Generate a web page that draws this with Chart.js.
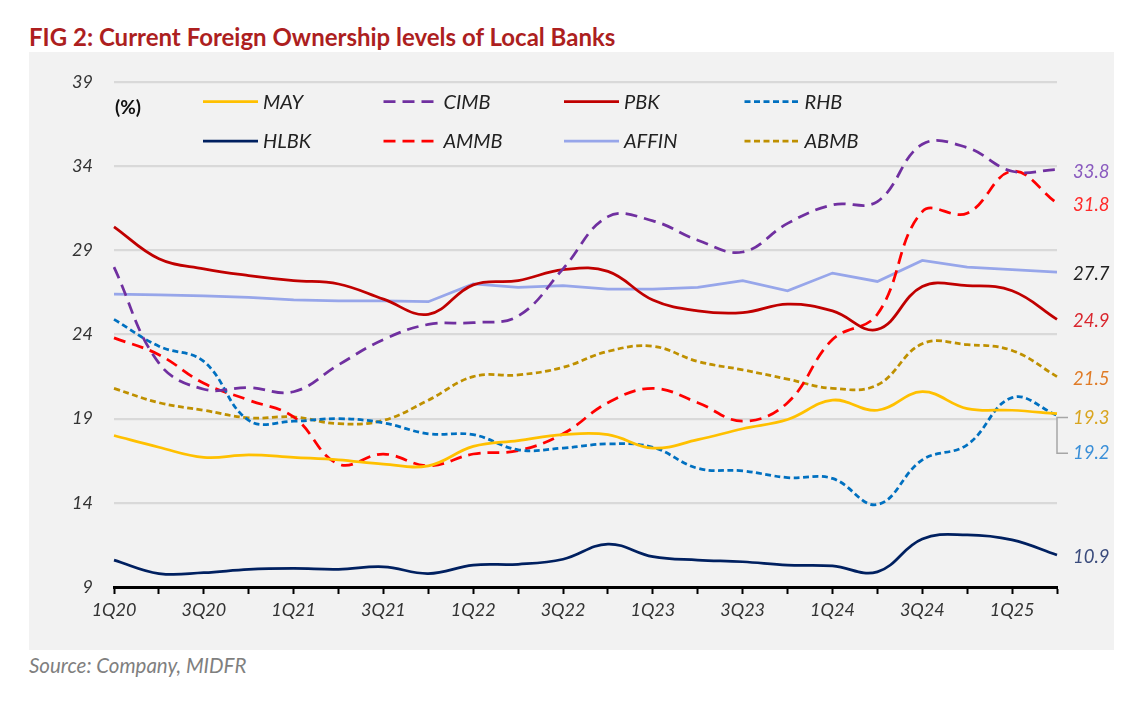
<!DOCTYPE html>
<html lang="en">
<head>
<meta charset="UTF-8">
<title>FIG 2: Current Foreign Ownership levels of Local Banks</title>
<script src="https://cdn.jsdelivr.net/npm/chart.js"></script>
<style>
  html, body { margin: 0; padding: 0; background: #fff; }
  body { width: 1148px; height: 704px; position: relative; overflow: hidden; font-family: 'Lato', sans-serif; }
  .title { position: absolute; left: 29px; top: 23px; font-size: 24px; line-height: 28px; font-weight: bold; color: #ad1f1f; white-space: nowrap; }
  .panel { position: absolute; left: 29px; top: 52px; width: 1085px; height: 598px; background: #f2f2f2; }
  .source { position: absolute; left: 29px; top: 653px; font-size: 20.5px; line-height: 24px; font-style: italic; color: #7f7f7f; }
  #wrap { position: absolute; left: 0; top: 0; width: 1148px; height: 704px; }
</style>
</head>
<body>
<div class="title">FIG 2: Current Foreign Ownership levels of Local Banks</div>
<div class="panel"></div>
<div class="source">Source: Company, MIDFR</div>
<div id="wrap"><canvas id="fxChart"></canvas></div>

<script>
// quarters 1Q20 .. 2Q25
const quarters = ['1Q20','2Q20','3Q20','4Q20','1Q21','2Q21','3Q21','4Q21','1Q22','2Q22','3Q22',
                  '4Q22','1Q23','2Q23','3Q23','4Q23','1Q24','2Q24','3Q24','4Q24','1Q25','2Q25'];

// foreign ownership, %
const may   = [18.0, 17.3, 16.7, 16.85, 16.7, 16.55, 16.3, 16.2, 17.35, 17.7, 18.05, 18.05, 17.25, 17.75, 18.4, 18.95, 20.1, 19.5, 20.6, 19.6, 19.5, 19.3];
const cimb  = [28.0, 22.3, 20.75, 20.85, 20.6, 22.2, 23.7, 24.6, 24.7, 25.1, 27.9, 31.0, 30.75, 29.6, 28.9, 30.6, 31.7, 31.9, 35.3, 35.1, 33.7, 33.8];
const pbk   = [30.4, 28.5, 27.9, 27.5, 27.2, 27.0, 26.1, 25.2, 26.95, 27.2, 27.85, 27.75, 26.05, 25.4, 25.3, 25.8, 25.4, 24.3, 26.85, 26.9, 26.6, 24.9];
const rhb   = [24.9, 23.3, 22.4, 18.9, 18.85, 19.0, 18.75, 18.1, 18.05, 17.15, 17.25, 17.5, 17.3, 16.05, 15.9, 15.5, 15.45, 13.9, 16.55, 17.45, 20.25, 19.2];
const hlbk  = [10.6, 9.8, 9.85, 10.05, 10.1, 10.05, 10.2, 9.8, 10.3, 10.35, 10.65, 11.55, 10.8, 10.6, 10.5, 10.3, 10.25, 9.9, 11.85, 12.1, 11.8, 10.9];
const ammb  = [23.8, 22.8, 21.1, 20.1, 19.1, 16.3, 16.9, 16.2, 16.9, 17.1, 18.1, 19.95, 20.8, 19.95, 18.85, 19.95, 23.7, 25.2, 31.3, 31.2, 33.7, 31.8];
const affin = [26.4, 26.35, 26.3, 26.2, 26.05, 26.0, 26.0, 25.95, 27.0, 26.8, 26.9, 26.7, 26.7, 26.8, 27.2, 26.6, 27.65, 27.15, 28.4, 28.0, 27.85, 27.7];
const abmb  = [20.8, 19.95, 19.5, 19.05, 19.1, 18.7, 18.9, 20.1, 21.5, 21.6, 22.05, 23.0, 23.3, 22.4, 21.9, 21.35, 20.8, 21.0, 23.45, 23.4, 23.05, 21.5];

const yTicks = [9, 14, 19, 24, 29, 34, 39];

const longDash = [12, 7];
const shortDash = [6, 3.5];

function series(label, data, color, dash, tension) {
  return {
    label: label,
    data: data,
    borderColor: color,
    backgroundColor: color,
    borderWidth: 2.75,
    borderDash: dash || [],
    borderCapStyle: 'butt',
    pointRadius: 0,
    pointHoverRadius: 0,
    tension: tension === undefined ? 0.4 : tension,
    fill: false
  };
}

// legend order: row 1 then row 2
const datasets = [
  series('MAY',   may,   '#ffc000'),
  series('CIMB',  cimb,  '#7030a0', longDash),
  series('PBK',   pbk,   '#c00000'),
  series('RHB',   rhb,   '#0070c0', shortDash),
  series('HLBK',  hlbk,  '#002060'),
  series('AMMB',  ammb,  '#ff0000', longDash),
  series('AFFIN', affin, '#97a6ea', [], 0),
  series('ABMB',  abmb,  '#bf9000', shortDash)
];

// colour of the value printed after each line, and a small vertical nudge
const endLabelColors = {
  MAY: '#d9a520', CIMB: '#8a5bbf', PBK: '#d9262e', RHB: '#3a8fd8',
  HLBK: '#3a4b7c', AMMB: '#ff2a2a', AFFIN: '#222222', ABMB: '#e07b26'
};
const endLabelNudge = { MAY: 4, RHB: 38 };

const italic = (size) => ({ family: 'Lato', style: 'italic', size: size });

const overlay = {
  id: 'overlay',
  afterDatasetsDraw(chart) {
    const ctx = chart.ctx;
    const area = chart.chartArea;
    ctx.save();

    // (%) unit
    ctx.fillStyle = '#111';
    ctx.font = 'bold 19px Lato';
    ctx.textBaseline = 'middle';
    ctx.textAlign = 'left';
    ctx.fillText('(%)', area.left + 1, 108);

    // legend, 4 columns x 2 rows
    chart.data.datasets.forEach((ds, i) => {
      const col = i % 4, row = Math.floor(i / 4);
      const x = 203 + col * 180.5;
      const y = 101.5 + row * 39.5;
      ctx.beginPath();
      ctx.setLineDash(ds.borderDash);
      ctx.lineWidth = ds.borderWidth;
      ctx.strokeStyle = ds.borderColor;
      ctx.moveTo(x, y);
      ctx.lineTo(x + 55, y);
      ctx.stroke();
      ctx.setLineDash([]);
      ctx.fillStyle = '#222';
      ctx.font = 'italic 20px Lato';
      ctx.fillText(ds.label, x + 60, y + 1);
    });

    // values at the end of each line
    const pos = {};
    chart.data.datasets.forEach((ds, i) => {
      const meta = chart.getDatasetMeta(i);
      const last = meta.data[meta.data.length - 1];
      const y = last.y + (endLabelNudge[ds.label] || 2);
      pos[ds.label] = { x: last.x, y: y };
      ctx.fillStyle = endLabelColors[ds.label];
      ctx.font = 'italic 18.5px Lato';
      ctx.fillText(ds.data[ds.data.length - 1].toFixed(1), last.x + 16, y);
    });

    // leader bracket for the two close values
    ctx.beginPath();
    ctx.strokeStyle = '#a6a6a6';
    ctx.lineWidth = 1.5;
    ctx.moveTo(pos.MAY.x + 11, pos.MAY.y);
    ctx.lineTo(pos.MAY.x, pos.MAY.y);
    ctx.lineTo(pos.RHB.x, pos.RHB.y);
    ctx.lineTo(pos.RHB.x + 11, pos.RHB.y);
    ctx.stroke();

    ctx.restore();
  }
};

new Chart(document.getElementById('fxChart'), {
  type: 'line',
  data: { labels: quarters, datasets: datasets },
  plugins: [overlay],
  options: {
    responsive: true,
    maintainAspectRatio: false,
    animation: false,
    events: [],
    layout: { padding: { left: 0, right: 91, top: 82, bottom: 77 } },
    plugins: {
      legend: { display: false },
      tooltip: { enabled: false },
      title: { display: false }
    },
    scales: {
      x: {
        offset: false,
        afterFit(scale) { scale.height = 40; },
        border: { display: true, color: '#000', width: 3 },
        grid: { drawOnChartArea: false, drawTicks: true, tickLength: 7, tickWidth: 2, tickColor: '#000' },
        ticks: {
          autoSkip: false,
          maxRotation: 0,
          padding: 5,
          color: '#333',
          font: italic(18),
          callback(value, index) { return index % 2 === 0 ? this.getLabelForValue(value) : ''; }
        }
      },
      y: {
        min: 9,
        max: 39,
        afterFit(scale) { scale.width = 114; },
        afterBuildTicks(scale) { scale.ticks = yTicks.map(v => ({ value: v })); },
        border: { display: false },
        grid: { color: '#d9d9d9', lineWidth: 2.2, drawTicks: false },
        ticks: { padding: 21, color: '#333', font: italic(18) }
      }
    }
  }
});
</script>
</body>
</html>
